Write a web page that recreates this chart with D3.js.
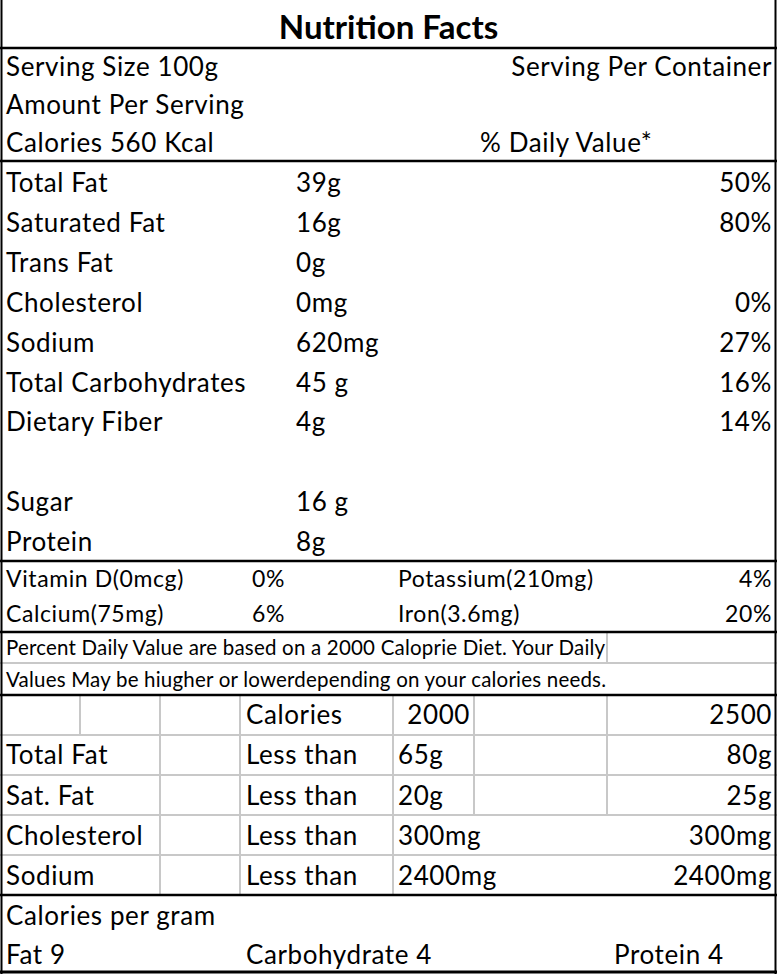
<!DOCTYPE html>
<html><head><meta charset="utf-8">
<script src="https://cdn.jsdelivr.net/npm/d3@7"></script>
<style>body{margin:0;background:#fff}svg text{font-family:Lato,"Open Sans",sans-serif;fill:#000}</style>
</head><body><div id="chart"></div>
<script>
const title = 'Nutrition Facts';
const headerLeft = ['Serving Size 100g', 'Amount Per Serving', 'Calories 560 Kcal'];
const headerRight = ['Serving Per Container', '', '% Daily Value*'];
const nutrients = ['Total Fat', 'Saturated Fat', 'Trans Fat', 'Cholesterol', 'Sodium', 'Total Carbohydrates', 'Dietary Fiber', '', 'Sugar', 'Protein'];
const amounts = ['39g', '16g', '0g', '0mg', '620mg', '45 g', '4g', '', '16 g', '8g'];
const dailyPct = ['50%', '80%', '', '0%', '27%', '16%', '14%', '', '', ''];
const vitaminsA = ['Vitamin D(0mcg)', 'Calcium(75mg)'];
const vitaminsAPct = ['0%', '6%'];
const vitaminsB = ['Potassium(210mg)', 'Iron(3.6mg)'];
const vitaminsBPct = ['4%', '20%'];
const footnote = ['Percent Daily Value are based on a 2000 Caloprie Diet. Your Daily', 'Values May be hiugher or lowerdepending on your calories needs.'];
const refNames = ['', 'Total Fat', 'Sat. Fat', 'Cholesterol', 'Sodium'];
const refLimit = ['Calories', 'Less than', 'Less than', 'Less than', 'Less than'];
const ref2000 = ['2000', '65g', '20g', '300mg', '2400mg'];
const ref2500 = ['2500', '80g', '25g', '300mg', '2400mg'];
const perGram = ['Fat 9', 'Carbohydrate 4', 'Protein 4'];

const W = 777, H = 974;
const svg = d3.select('#chart').append('svg').attr('width', W).attr('height', H);

// row scales
const yHead = d3.scaleLinear().domain([0, 2]).range([67, 143]);
const yMain = d3.scaleLinear().domain([0, 9]).range([183, 542]);
const yVit = d3.scaleLinear().domain([0, 1]).range([579, 614]);
const yFoot = d3.scaleLinear().domain([0, 1]).range([648, 680]);
const yRef = d3.scaleLinear().domain([0, 4]).range([715, 876]);
const yGram = d3.scaleLinear().domain([0, 1]).range([916, 955]);

function txt(x, y, s, size, anchor, weight, ls) {
    svg.append('text').attr('x', x).attr('y', y).attr('dy', '0.35em')
        .attr('text-anchor', anchor || 'start')
        .style('font-size', size + 'px').style('font-weight', weight || 'normal')
        .style('letter-spacing', (ls === undefined ? 0.6 : ls) + 'px')
        .text(s);
}
function line(x1, y1, x2, y2, c, w) {
    svg.append('line').attr('x1', x1).attr('y1', y1).attr('x2', x2).attr('y2', y2)
        .attr('stroke', c).attr('stroke-width', w);
}

// gray grid
const gray = '#c8c8c8';
line(607, 632, 607, 663, gray, 2);
line(0, 663, 777, 663, gray, 2);
[735, 775, 815, 855].forEach(y => line(0, y, 777, y, gray, 2));
[80].forEach(x => line(x, 695, x, 735, gray, 2));
[160, 240, 393].forEach(x => line(x, 695, x, 895, gray, 2));
[474, 607].forEach(x => line(x, 695, x, 815, gray, 2));

// black rules
[48, 161, 561, 632, 695, 895].forEach(y => line(0, y, 777, y, '#000', 2.5));
line(0, 972, 777, 972, '#000', 3);
line(1.5, 0, 1.5, 974, '#000', 2);
line(775.5, 0, 775.5, 974, '#000', 2);

txt(W / 2, 27, title, 33, 'middle', 'bold', 0);
headerLeft.forEach((s, i) => txt(6, yHead(i), s, 26));
headerRight.forEach((s, i) => i === 2 ? txt(480, yHead(i), s, 26) : txt(772, yHead(i), s, 26, 'end'));

nutrients.forEach((s, i) => {
    txt(6, yMain(i), s, 26);
    txt(296, yMain(i), amounts[i], 26);
    txt(772, yMain(i), dailyPct[i], 26, 'end');
});

vitaminsA.forEach((s, i) => {
    txt(6, yVit(i), s, 23);
    txt(252, yVit(i), vitaminsAPct[i], 23);
    txt(398, yVit(i), vitaminsB[i], 23);
    txt(772, yVit(i), vitaminsBPct[i], 23, 'end');
});

footnote.forEach((s, i) => txt(6, yFoot(i), s, 20.5, 'start', 'normal', 0.2));

refNames.forEach((s, i) => {
    txt(6, yRef(i), s, 26);
    txt(246, yRef(i), refLimit[i], 26);
    if (i === 0) txt(470, yRef(i), ref2000[i], 26, 'end');
    else txt(398, yRef(i), ref2000[i], 26);
    txt(772, yRef(i), ref2500[i], 26, 'end');
});

txt(6, yGram(0), 'Calories per gram', 26);
[6, 246, 614].forEach((x, i) => txt(x, yGram(1), perGram[i], 26));
</script></body></html>
